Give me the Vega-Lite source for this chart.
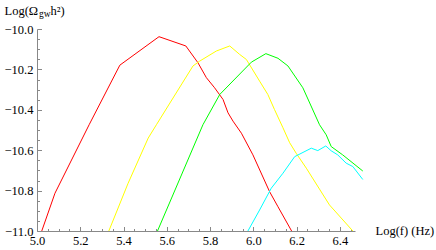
{
  "$schema": "https://vega.github.io/schema/vega-lite/v6.json",
  "width": 318,
  "height": 202,
  "autosize": {"type": "none"},
  "padding": {"left": 37, "top": 29, "right": 81, "bottom": 19},
  "background": "white",
  "title": {"text": "gw", "anchor": "start", "frame": "group", "font": "Liberation Serif", "fontSize": 9.5, "fontWeight": "normal", "color": "black", "baseline": "alphabetic", "offset": 0, "dx": 2, "dy": 22},
  "data": {"values": [
    {"s": "red", "x": 5.022, "y": -11.0},
    {"s": "red", "x": 5.083, "y": -10.813},
    {"s": "red", "x": 5.241, "y": -10.474},
    {"s": "red", "x": 5.383, "y": -10.179},
    {"s": "red", "x": 5.564, "y": -10.038},
    {"s": "red", "x": 5.688, "y": -10.084},
    {"s": "red", "x": 5.744, "y": -10.167},
    {"s": "red", "x": 5.783, "y": -10.241},
    {"s": "red", "x": 5.821, "y": -10.291},
    {"s": "red", "x": 5.860, "y": -10.349},
    {"s": "red", "x": 5.883, "y": -10.415},
    {"s": "red", "x": 5.906, "y": -10.456},
    {"s": "red", "x": 5.945, "y": -10.516},
    {"s": "red", "x": 5.998, "y": -10.623},
    {"s": "red", "x": 6.075, "y": -10.805},
    {"s": "red", "x": 6.114, "y": -10.880},
    {"s": "red", "x": 6.177, "y": -11.0},
    {"s": "yellow", "x": 5.332, "y": -11.0},
    {"s": "yellow", "x": 5.421, "y": -10.764},
    {"s": "yellow", "x": 5.514, "y": -10.540},
    {"s": "yellow", "x": 5.552, "y": -10.474},
    {"s": "yellow", "x": 5.721, "y": -10.183},
    {"s": "yellow", "x": 5.752, "y": -10.159},
    {"s": "yellow", "x": 5.829, "y": -10.109},
    {"s": "yellow", "x": 5.891, "y": -10.084},
    {"s": "yellow", "x": 5.937, "y": -10.126},
    {"s": "yellow", "x": 5.968, "y": -10.151},
    {"s": "yellow", "x": 6.029, "y": -10.258},
    {"s": "yellow", "x": 6.067, "y": -10.324},
    {"s": "yellow", "x": 6.098, "y": -10.399},
    {"s": "yellow", "x": 6.137, "y": -10.489},
    {"s": "yellow", "x": 6.168, "y": -10.563},
    {"s": "yellow", "x": 6.198, "y": -10.615},
    {"s": "yellow", "x": 6.245, "y": -10.689},
    {"s": "yellow", "x": 6.352, "y": -10.871},
    {"s": "yellow", "x": 6.460, "y": -11.0},
    {"s": "green", "x": 5.557, "y": -11.0},
    {"s": "green", "x": 5.767, "y": -10.474},
    {"s": "green", "x": 5.845, "y": -10.324},
    {"s": "green", "x": 5.991, "y": -10.164},
    {"s": "green", "x": 6.058, "y": -10.122},
    {"s": "green", "x": 6.114, "y": -10.145},
    {"s": "green", "x": 6.160, "y": -10.183},
    {"s": "green", "x": 6.229, "y": -10.291},
    {"s": "green", "x": 6.306, "y": -10.474},
    {"s": "green", "x": 6.337, "y": -10.524},
    {"s": "green", "x": 6.360, "y": -10.582},
    {"s": "green", "x": 6.413, "y": -10.623},
    {"s": "green", "x": 6.506, "y": -10.703},
    {"s": "cyan", "x": 5.975, "y": -11.0},
    {"s": "cyan", "x": 6.029, "y": -10.896},
    {"s": "cyan", "x": 6.083, "y": -10.788},
    {"s": "cyan", "x": 6.137, "y": -10.714},
    {"s": "cyan", "x": 6.191, "y": -10.632},
    {"s": "cyan", "x": 6.268, "y": -10.590},
    {"s": "cyan", "x": 6.298, "y": -10.602},
    {"s": "cyan", "x": 6.335, "y": -10.579},
    {"s": "cyan", "x": 6.360, "y": -10.603},
    {"s": "cyan", "x": 6.390, "y": -10.623},
    {"s": "cyan", "x": 6.429, "y": -10.664},
    {"s": "cyan", "x": 6.460, "y": -10.681},
    {"s": "cyan", "x": 6.506, "y": -10.745}
  ]},
  "mark": {"type": "line", "strokeWidth": 1, "clip": false},
  "encoding": {
    "x": {
      "field": "x", "type": "quantitative",
      "scale": {"domain": [5.0, 6.47], "nice": false, "zero": false},
      "axis": {
        "values": [5.0, 5.05, 5.1, 5.15, 5.2, 5.25, 5.3, 5.35, 5.4, 5.45, 5.5, 5.55, 5.6, 5.65, 5.7, 5.75, 5.8, 5.85, 5.9, 5.95, 6.0, 6.05, 6.1, 6.15, 6.2, 6.25, 6.3, 6.35, 6.4, 6.45],
        "labelExpr": "abs(datum.value*5 - round(datum.value*5)) < 0.01 ? format(datum.value, '.1f') : ''",
        "labelOverlap": false, "labelFlush": false, "labelBound": false,
        "labelFont": "Liberation Serif", "labelFontSize": 12.5, "labelColor": "black",
        "labelPadding": 8,
        "tickSize": {"condition": {"test": "abs(datum.value*5 - round(datum.value*5)) < 0.01", "value": -4.5}, "value": -2.5},
        "tickColor": "#888888", "tickWidth": 1,
        "domainColor": "#888888", "domainWidth": 1,
        "grid": false,
        "title": "Log(f) (Hz)", "titleFont": "Liberation Serif", "titleFontSize": 12.5, "titleFontWeight": "normal", "titleColor": "black",
        "titleAlign": "left", "titleBaseline": "alphabetic", "titleAngle": 0, "titleX": 338, "titleY": 3
      }
    },
    "y": {
      "field": "y", "type": "quantitative",
      "scale": {"domain": [-11.0, -10.0], "nice": false, "zero": false},
      "axis": {
        "values": [-11.0, -10.95, -10.9, -10.85, -10.8, -10.75, -10.7, -10.65, -10.6, -10.55, -10.5, -10.45, -10.4, -10.35, -10.3, -10.25, -10.2, -10.15, -10.1, -10.05, -10.0],
        "labelExpr": "abs(datum.value*5 - round(datum.value*5)) < 0.01 ? format(datum.value, '.1f') : ''",
        "labelOverlap": false, "labelFlush": false, "labelBound": false,
        "labelFont": "Liberation Serif", "labelFontSize": 12.5, "labelColor": "black",
        "labelPadding": 8.5,
        "tickSize": {"condition": {"test": "abs(datum.value*5 - round(datum.value*5)) < 0.01", "value": -4.5}, "value": -2.5},
        "tickColor": "#888888", "tickWidth": 1,
        "domainColor": "#888888", "domainWidth": 1,
        "grid": false,
        "title": "Log(Ω\u2002\u2002h²)", "titleFont": "Liberation Serif", "titleFontSize": 12.5, "titleFontWeight": "normal", "titleColor": "black",
        "titleAlign": "left", "titleBaseline": "alphabetic", "titleAngle": 0, "titleX": -33, "titleY": -15
      }
    },
    "color": {
      "field": "s", "type": "nominal",
      "scale": {"domain": ["red", "yellow", "green", "cyan"], "range": ["#ff0000", "#ffff00", "#00ff00", "#00ffff"]},
      "legend": null
    }
  },
  "config": {"view": {"stroke": null}}
}
